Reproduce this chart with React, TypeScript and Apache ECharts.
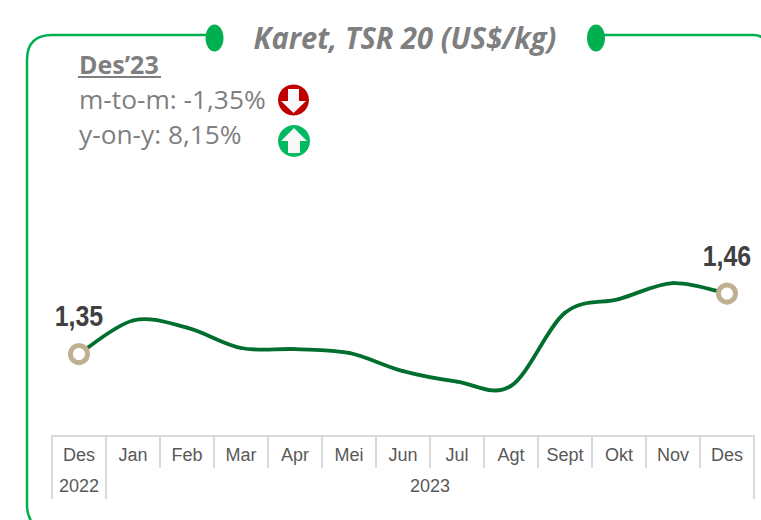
import React, { useEffect, useRef } from "react";
import * as echarts from "echarts";

const months = ["Des", "Jan", "Feb", "Mar", "Apr", "Mei", "Jun", "Jul", "Agt", "Sept", "Okt", "Nov", "Des"];
const prices = [1.349, 1.41, 1.397, 1.36, 1.358, 1.351, 1.318, 1.299, 1.291, 1.424, 1.449, 1.478, 1.459];
const yearLabels = ["2022", "2023"];
const yearLabelPositions = [0.5, 7];
const yearTickPositions = [0, 1, 13];
const title = "Karet, TSR 20 (US$/kg)";
const periodLabel = "Des\u201923";
const momText = "m-to-m: -1,35%";
const yoyText = "y-on-y: 8,15%";

const GREEN = "#00B050";
const GREY = "#7F7F7F";
const LABEL_FONT = "'Liberation Sans', Arial, sans-serif";
const TITLE_FONT = "'Open Sans', sans-serif";

echarts.graphic.registerShape(
  "frameLeft",
  echarts.graphic.extendPath("M 212 35 H 52 Q 27 35 27 60 V 505 Q 27 516 33 524", {})
);
echarts.graphic.registerShape(
  "frameRight",
  echarts.graphic.extendPath("M 600 35 H 754 Q 759 35 763 38", {})
);

function renderSegment(params: any, api: any) {
  const i = params.dataIndex;
  if (i >= prices.length - 1) return null;
  const at = (k: number) => {
    const j = Math.max(0, Math.min(prices.length - 1, k));
    return api.coord([j, prices[j]]);
  };
  const p0 = at(i - 1);
  const p1 = at(i);
  const p2 = at(i + 1);
  const p3 = at(i + 2);
  const c1 = [p1[0] + (p2[0] - p0[0]) / 6, p1[1] + (p2[1] - p0[1]) / 6];
  const c2 = [p2[0] - (p3[0] - p1[0]) / 6, p2[1] - (p3[1] - p1[1]) / 6];
  return {
    type: "path",
    shape: { pathData: `M ${p1[0]} ${p1[1]} C ${c1[0]} ${c1[1]} ${c2[0]} ${c2[1]} ${p2[0]} ${p2[1]}` },
    style: { fill: "none", stroke: "#006E2E", lineWidth: 3.8, lineCap: "round" },
    silent: true,
  };
}

function renderEndLabel(params: any, api: any) {
  const i = params.dataIndex;
  if (i !== 0 && i !== prices.length - 1) return null;
  const p = api.coord([i, prices[i]]);
  return {
    type: "text",
    x: p[0],
    y: p[1] - 38,
    scaleX: 0.83,
    style: {
      text: prices[i].toFixed(2).replace(".", ","),
      fill: "#404040",
      font: `bold 30px ${LABEL_FONT}`,
      textAlign: "center",
      textVerticalAlign: "middle",
    },
    silent: true,
  };
}

export default function App() {
  const ref = useRef<HTMLDivElement>(null);
  useEffect(() => {
    const chart = echarts.init(ref.current!, null, { renderer: "svg" });
    const lastIndex = prices.length - 1;
    const points = prices.map((v, i) => [i, v]);
    chart.setOption({
      animation: false,
      backgroundColor: "#ffffff",
      grid: { left: 52, right: 7, top: 51, bottom: 84, containLabel: false },
      xAxis: [
        {
          type: "category",
          data: months,
          boundaryGap: true,
          position: "bottom",
          axisLine: { show: true, lineStyle: { color: "#D9D9D9", width: 2 } },
          axisTick: { show: true, length: 32, lineStyle: { color: "#D9D9D9", width: 2 } },
          axisLabel: { color: "#595959", fontFamily: LABEL_FONT, fontSize: 18, margin: 10, interval: 0 },
        },
        {
          type: "value",
          min: 0,
          max: 13,
          position: "bottom",
          offset: 32,
          splitLine: { show: false },
          axisLine: { show: false },
          axisTick: { show: true, length: 31, customValues: yearTickPositions, lineStyle: { color: "#D9D9D9", width: 2 } },
          axisLabel: {
            show: true,
            customValues: yearLabelPositions,
            color: "#595959",
            fontFamily: LABEL_FONT,
            fontSize: 18,
            margin: 9,
            formatter: (v: number) => yearLabels[yearLabelPositions.indexOf(v)] ?? "",
          },
        },
      ],
      yAxis: { type: "value", min: 1.2, max: 1.9, show: false },
      series: [
        {
          type: "custom",
          coordinateSystem: "cartesian2d",
          data: points,
          encode: { x: 0, y: 1 },
          renderItem: renderSegment,
          z: 1,
          silent: true,
        },
        {
          type: "line",
          data: prices,
          z: 2,
          lineStyle: { opacity: 0, width: 0 },
          showSymbol: true,
          symbol: (_: any, p: any) => (p.dataIndex === 0 || p.dataIndex === lastIndex ? "circle" : "none"),
          symbolSize: 17,
          itemStyle: { color: "#ffffff", borderColor: "#BFB08F", borderWidth: 5 },
        },
        {
          type: "custom",
          coordinateSystem: "cartesian2d",
          data: points,
          encode: { x: 0, y: 1 },
          renderItem: renderEndLabel,
          z: 3,
          silent: true,
        },
      ],
      graphic: [
        { type: "frameLeft", style: { stroke: GREEN, fill: "none", lineWidth: 2.5 } },
        { type: "frameRight", style: { stroke: GREEN, fill: "none", lineWidth: 2.5 } },
        { type: "ellipse", shape: { cx: 214.5, cy: 38, rx: 9, ry: 13.5 }, style: { fill: GREEN } },
        { type: "ellipse", shape: { cx: 596, cy: 38, rx: 9, ry: 13.5 }, style: { fill: GREEN } },
        {
          type: "text",
          x: 405,
          y: 37,
          scaleX: 0.97,
          style: {
            text: title,
            fill: GREY,
            font: `italic bold 30px ${TITLE_FONT}`,
            textAlign: "center",
            textVerticalAlign: "middle",
          },
        },
        {
          type: "text",
          x: 79,
          y: 64,
          style: { text: periodLabel, fill: GREY, font: `bold 25px ${TITLE_FONT}`, textAlign: "left", textVerticalAlign: "middle" },
        },
        { type: "line", shape: { x1: 78, y1: 77, x2: 161, y2: 77 }, style: { stroke: GREY, lineWidth: 2 } },
        {
          type: "text",
          x: 79,
          y: 99,
          style: { text: momText, fill: GREY, font: `26.3px ${TITLE_FONT}`, textAlign: "left", textVerticalAlign: "middle" },
        },
        {
          type: "text",
          x: 79,
          y: 134,
          style: { text: yoyText, fill: GREY, font: `26.3px ${TITLE_FONT}`, textAlign: "left", textVerticalAlign: "middle" },
        },
        { type: "circle", shape: { cx: 293.5, cy: 100, r: 15.5 }, style: { fill: "#C00000" } },
        {
          type: "polygon",
          shape: { points: [[288, 89], [299, 89], [299, 101], [306, 101], [293.5, 113], [281, 101], [288, 101]] },
          style: { fill: "#F8F8F8" },
        },
        { type: "circle", shape: { cx: 294, cy: 141, r: 16 }, style: { fill: "#00B960" } },
        {
          type: "polygon",
          shape: { points: [[294, 128], [307, 141], [300, 141], [300, 153], [288, 153], [288, 141], [281, 141]] },
          style: { fill: "#F8F8F8" },
        },
      ],
    });
    return () => chart.dispose();
  }, []);
  return <div ref={ref} style={{ position: "absolute", left: 0, top: 0, width: 761, height: 520 }} />;
}
